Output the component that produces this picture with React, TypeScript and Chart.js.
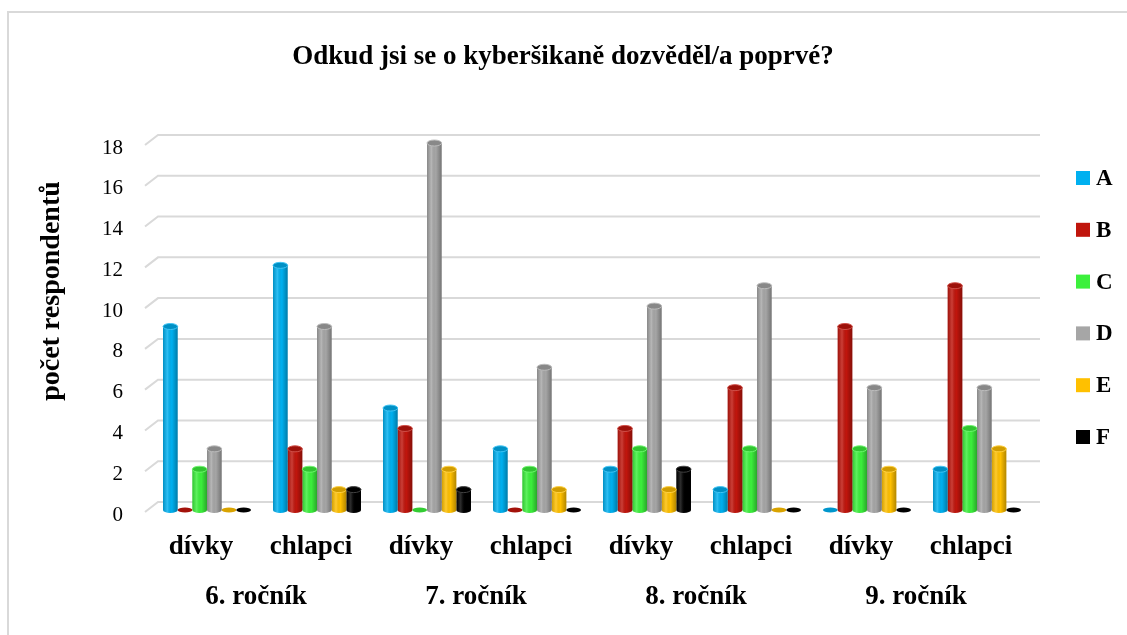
import React, { useEffect, useRef } from "react";
import { Chart, registerables } from "chart.js";
Chart.register(...registerables);

const categories = ["dívky", "chlapci", "dívky", "chlapci", "dívky", "chlapci", "dívky", "chlapci"];
const grades = ["6. ročník", "7. ročník", "8. ročník", "9. ročník"];
const seriesNames = ["A", "B", "C", "D", "E", "F"];
const seriesA = [9, 12, 5, 3, 2, 1, 0, 2];
const seriesB = [0, 3, 4, 0, 4, 6, 9, 11];
const seriesC = [2, 2, 0, 2, 3, 3, 3, 4];
const seriesD = [3, 9, 18, 7, 10, 11, 6, 6];
const seriesE = [0, 1, 2, 1, 1, 0, 2, 3];
const seriesF = [0, 1, 1, 0, 2, 0, 0, 0];
const yTicks = [0, 2, 4, 6, 8, 10, 12, 14, 16, 18];
const colors = ["#00B0F0", "#C0150C", "#3CF03C", "#A6A6A6", "#FFC000", "#000000"];
const titleText = "Odkud jsi se o kyberšikaně dozvěděl/a poprvé?";
const yTitleText = "počet respondentů";

const FONT = "'Liberation Serif', 'Times New Roman', serif";

function shade(hex: string, f: number) {
  const n = parseInt(hex.slice(1), 16);
  const r = (n >> 16) & 255, g = (n >> 8) & 255, b = n & 255;
  const m = (c: number) => Math.max(0, Math.min(255, Math.round(f < 1 ? c * f : c + (255 - c) * (f - 1))));
  return `rgb(${m(r)},${m(g)},${m(b)})`;
}

const gridPlugin = {
  id: "grid3d",
  beforeDatasetsDraw(chart: any) {
    const { ctx, chartArea } = chart;
    const y = chart.scales.y;
    ctx.save();
    ctx.strokeStyle = "#D9D9D9";
    ctx.lineWidth = 2;
    for (const v of yTicks) {
      const py = y.getPixelForValue(v);
      ctx.beginPath();
      ctx.moveTo(chartArea.left - 7, py + 2);
      ctx.lineTo(chartArea.left + 6, py - 8);
      ctx.lineTo(chartArea.right + 8, py - 8);
      ctx.stroke();
    }
    ctx.restore();
  },
};

const cylinderPlugin = {
  id: "cylinder",
  afterDatasetsDraw(chart: any) {
    const { ctx } = chart;
    chart.data.datasets.forEach((ds: any, i: number) => {
      const meta = chart.getDatasetMeta(i);
      const col = ds.backgroundColor as string;
      meta.data.forEach((bar: any) => {
        const { x, y, base, width } = bar.getProps(["x", "y", "base", "width"], true);
        const rx = width / 2;
        const ry = 3;
        const left = x - rx;
        const h = base - y;
        ctx.save();
        const g = ctx.createLinearGradient(left, 0, left + width, 0);
        g.addColorStop(0, "rgba(0,0,0,0.18)");
        g.addColorStop(0.3, "rgba(255,255,255,0.18)");
        g.addColorStop(0.6, "rgba(0,0,0,0)");
        g.addColorStop(1, "rgba(0,0,0,0.3)");
        if (h > 0.5) {
          ctx.fillStyle = col;
          ctx.beginPath();
          ctx.ellipse(x, base, rx, ry, 0, 0, Math.PI);
          ctx.fill();
          ctx.fillStyle = g;
          ctx.beginPath();
          ctx.rect(left, y, width, h);
          ctx.ellipse(x, base, rx, ry, 0, 0, Math.PI);
          ctx.fill();
          ctx.fillStyle = shade(col, 0.82);
          ctx.strokeStyle = shade(col, 1.25);
          ctx.lineWidth = 1;
          ctx.beginPath();
          ctx.ellipse(x, y, rx, ry, 0, 0, Math.PI * 2);
          ctx.fill();
          ctx.stroke();
        } else {
          ctx.fillStyle = shade(col, 0.85);
          ctx.beginPath();
          ctx.ellipse(x, base, rx, 2.5, 0, 0, Math.PI * 2);
          ctx.fill();
        }
        ctx.restore();
      });
    });
  },
};

const textPlugin = {
  id: "customText",
  afterDraw(chart: any) {
    const { ctx } = chart;
    ctx.save();
    ctx.fillStyle = "#000";
    ctx.textBaseline = "middle";
    // chart title
    ctx.textAlign = "center";
    ctx.font = `bold 27px ${FONT}`;
    ctx.fillText(titleText, 563, 57);
    // legend
    ctx.font = `bold 23px ${FONT}`;
    ctx.textAlign = "left";
    chart.data.datasets.forEach((ds: any, i: number) => {
      const cy = 178 + i * 51.8;
      ctx.fillStyle = ds.backgroundColor;
      ctx.fillRect(1076, cy - 7, 14, 14);
      ctx.fillStyle = "#000";
      ctx.fillText(ds.label, 1096, cy + 1);
    });
    // y axis title
    ctx.translate(52, 291);
    ctx.rotate(-Math.PI / 2);
    ctx.textAlign = "center";
    ctx.font = `bold 28px ${FONT}`;
    ctx.fillText(yTitleText, 0, 0);
    ctx.restore();
  },
};

export default function App() {
  const ref = useRef<HTMLCanvasElement>(null);
  useEffect(() => {
    if (!ref.current) return;
    const series = [seriesA, seriesB, seriesC, seriesD, seriesE, seriesF];
    const chart = new Chart(ref.current, {
      type: "bar",
      data: {
        labels: categories,
        datasets: series.map((d, i) => ({
          label: seriesNames[i],
          data: d,
          backgroundColor: colors[i],
          borderWidth: 0,
          categoryPercentage: 0.8,
          barPercentage: 1.0,
        })),
      },
      options: {
        responsive: false,
        animation: false,
        layout: { padding: { left: 10, right: 95, top: 143, bottom: 25 } },
        plugins: {
          legend: { display: false },
          tooltip: { enabled: false },
          title: { display: false },
        },
        scales: {
          x: {
            type: "category",
            position: "bottom",
            grid: { display: false, drawTicks: false },
            border: { display: false },
            ticks: { color: "#000", font: { family: FONT, size: 27, weight: "bold" }, padding: 21, labelOffset: -6 },
            afterFit: (s: any) => { s.height = 50; },
          },
          x2: {
            type: "category",
            axis: "x",
            position: "bottom",
            labels: grades,
            offset: true,
            grid: { display: false, drawTicks: false },
            border: { display: false },
            ticks: { color: "#000", font: { family: FONT, size: 27, weight: "bold" }, padding: 21, labelOffset: -6 },
            afterFit: (s: any) => { s.height = 50; },
          },
          y: {
            min: 0,
            max: 18,
            ticks: { stepSize: 2, color: "#000", font: { family: FONT, size: 21 }, padding: 29, labelOffset: 5 },
            grid: { display: false, drawTicks: false },
            border: { display: false },
            afterFit: (s: any) => { s.width = 142; },
          },
        },
      } as any,
      plugins: [gridPlugin, cylinderPlugin, textPlugin],
    });
    return () => chart.destroy();
  }, []);

  return (
    <div style={{ position: "absolute", left: 0, top: 0, width: 1127, height: 635, overflow: "hidden", background: "#fff" }}>
      <div style={{ position: "absolute", left: 7, top: 11, width: 1200, height: 700, borderLeft: "2px solid #D9D9D9", borderTop: "2px solid #D9D9D9" }} />
      <canvas ref={ref} width={1127} height={635} style={{ position: "absolute", left: 0, top: 0 }} />
    </div>
  );
}
